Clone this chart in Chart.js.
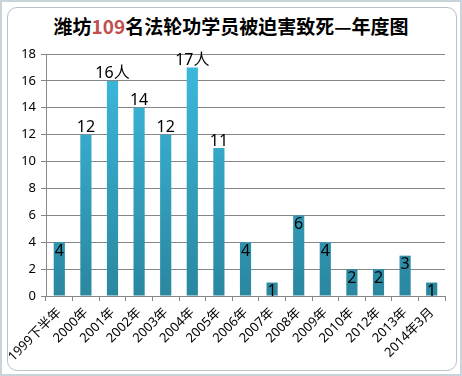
<!DOCTYPE html>
<html>
<head>
<meta charset="utf-8">
<script src="https://cdn.jsdelivr.net/npm/chart.js@4"></script>
<style>
  html, body { margin: 0; padding: 0; background: #fff; }
  .frame {
    position: absolute; left: 0; top: 0; width: 458px; height: 372px;
    border: 2px solid #c9d3da; background: #fff;
  }
  .inner {
    position: absolute; left: 5px; top: 5px; width: 448px; height: 362px;
    border: 1px solid #b9c2c9; border-radius: 10px; background: #fff;
  }
  .title {
    position: absolute; left: 0; top: 12px; width: 462px; text-align: center;
    font-family: "Noto Sans CJK SC", sans-serif; font-size: 19px; font-weight: bold;
    color: #000; line-height: 28px;
  }
  .title span { color: #c0504d; }
  canvas { position: absolute; left: 0; top: 0; }
</style>
</head>
<body>
<div class="frame"><div class="inner"></div></div>
<div class="title">潍坊<span>109</span>名法轮功学员被迫害致死—年度图</div>
<canvas id="chart" width="462" height="376"></canvas>
<script>
const years = ['1999下半年', '2000年', '2001年', '2002年', '2003年', '2004年', '2005年', '2006年',
  '2007年', '2008年', '2009年', '2010年', '2012年', '2013年', '2014年3月'];
const deaths = [4, 12, 16, 14, 12, 17, 11, 4, 1, 6, 4, 2, 2, 3, 1];
const barLabels = ['4', '12', '16人', '14', '12', '17人', '11', '4', '1', '6', '4', '2', '2', '3', '1'];

// data labels: tall bars get the label above, short ones inside the top
const labelPlugin = {
  id: 'barLabels',
  afterDatasetsDraw(chart) {
    const ctx = chart.ctx;
    const meta = chart.getDatasetMeta(0);
    ctx.save();
    ctx.font = '16px "Noto Sans", "Noto Sans CJK SC", sans-serif';
    ctx.fillStyle = '#000';
    ctx.textAlign = 'center';
    meta.data.forEach((bar, i) => {
      if (deaths[i] >= 11) {
        ctx.textBaseline = 'bottom';
        ctx.fillText(barLabels[i], bar.x, bar.y + 1);
      } else {
        ctx.textBaseline = 'middle';
        ctx.fillText(barLabels[i], bar.x, bar.y + 9);
      }
    });
    ctx.restore();
  }
};

function barGradient(context) {
  const area = context.chart.chartArea;
  if (!area) return '#31a3c6';
  const g = context.chart.ctx.createLinearGradient(0, area.top, 0, area.bottom);
  g.addColorStop(0, '#3cbbe0');
  g.addColorStop(1, '#2a879f');
  return g;
}

new Chart(document.getElementById('chart'), {
  type: 'bar',
  data: {
    labels: years,
    datasets: [{
      data: deaths,
      backgroundColor: barGradient,
      barPercentage: 0.42,
      categoryPercentage: 1
    }]
  },
  options: {
    responsive: false,
    animation: false,
    layout: { padding: { top: 54, left: 0, right: 17, bottom: 0 } },
    plugins: {
      legend: { display: false },
      tooltip: { enabled: false }
    },
    scales: {
      x: {
        offset: true,
        grid: { drawOnChartArea: false, offset: true, tickLength: 5, color: '#868686' },
        border: { color: '#868686' },
        ticks: {
          minRotation: 45, maxRotation: 45, padding: 4,
          color: '#000',
          font: { family: '"Noto Sans", "Noto Sans CJK SC", sans-serif', size: 13 }
        },
        afterFit(scale) { scale.height = 80; }
      },
      y: {
        min: 0, max: 18,
        grid: { color: '#868686', tickLength: 5 },
        border: { color: '#868686' },
        ticks: {
          stepSize: 2, padding: 5,
          color: '#000',
          font: { family: '"Noto Sans", sans-serif', size: 13 }
        },
        afterFit(scale) { scale.width = 46; }
      }
    }
  },
  plugins: [labelPlugin]
});
</script>
</body>
</html>
